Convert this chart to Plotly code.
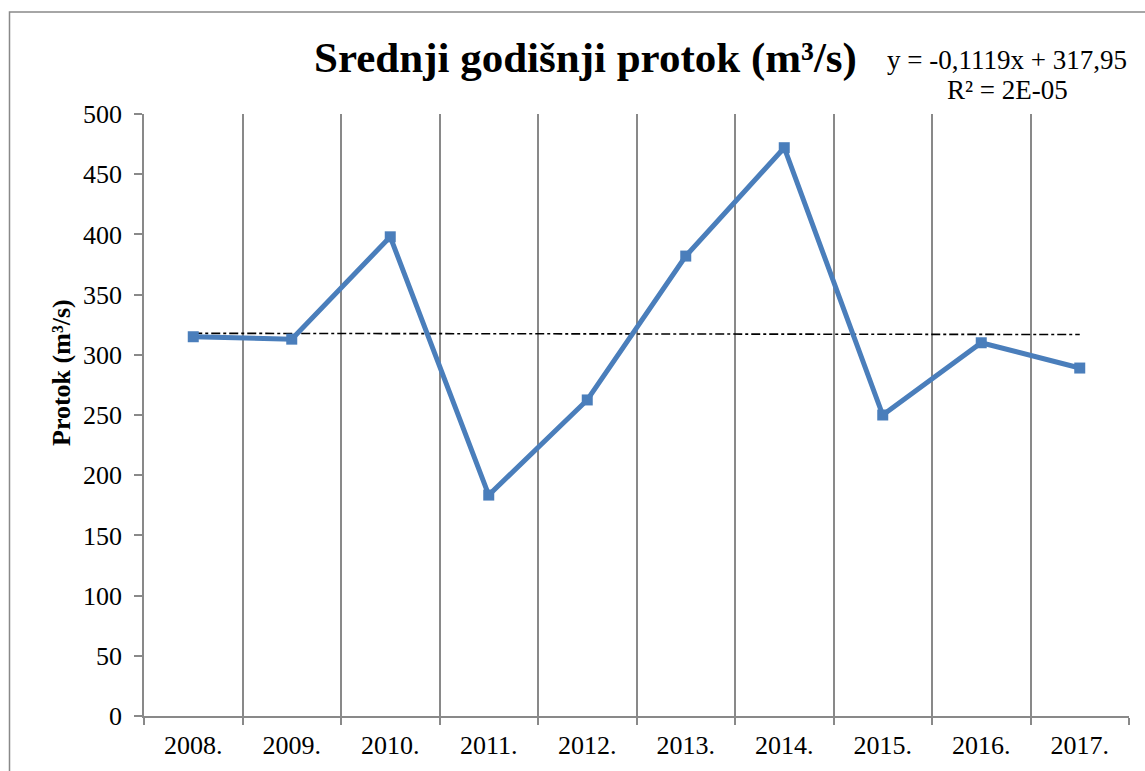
import numpy as np
import plotly.graph_objects as go

# Mean annual discharge per year
years = ["2008.", "2009.", "2010.", "2011.", "2012.", "2013.", "2014.", "2015.", "2016.", "2017."]
protok = [315, 313, 398, 183.5, 262.5, 382, 472, 250, 310, 289]

# Linear trend as reported on the chart: y = -0,1119x + 317,95 (x = 1..10)
trend_slope = -0.1119
trend_intercept = 317.95
y_ticks = [0, 50, 100, 150, 200, 250, 300, 350, 400, 450, 500]

x_idx = np.arange(1, len(years) + 1)
trend = trend_slope * x_idx + trend_intercept

W, H = 1145, 771
L, R, T, B = 144, 16, 114, 55
pw, ph = W - L - R, H - T - B

def px_x(p):
    return (p - L) / pw

def px_y(p):
    return (H - B - p) / ph

serif = "Liberation Serif"
grey = "#898989"
blue = "#4A7EBB"

fig = go.Figure()

fig.add_trace(go.Scatter(
    x=years, y=trend, mode="lines",
    line=dict(color="black", width=1.6, dash="dashdot"),
    hoverinfo="skip", showlegend=False,
))

fig.add_trace(go.Scatter(
    x=years, y=protok, mode="lines+markers",
    line=dict(color=blue, width=5),
    marker=dict(symbol="square", size=11, color=blue),
    showlegend=False,
))

fig.update_layout(
    width=W, height=H,
    margin=dict(l=L, r=R, t=T, b=B),
    paper_bgcolor="white", plot_bgcolor="white",
    font=dict(family=serif, color="black"),
    xaxis=dict(
        type="category", range=[-0.5, 9.5],
        tickson="boundaries", ticks="outside", ticklen=7, tickcolor=grey, tickwidth=1.5,
        showgrid=True, gridcolor=grey, gridwidth=1.5,
        showline=True, linecolor=grey, linewidth=1.5,
        tickfont=dict(size=26, family=serif, color="black"),
        ticklabelstandoff=5,
    ),
    yaxis=dict(
        range=[0, 500], tickvals=y_ticks,
        ticks="outside", ticklen=8, tickcolor=grey, tickwidth=1.5,
        showgrid=False, zeroline=False,
        showline=True, linecolor=grey, linewidth=1.5,
        tickfont=dict(size=26, family=serif, color="black"),
        ticklabelstandoff=7,
    ),
    shapes=[dict(
        type="rect", xref="paper", yref="paper",
        x0=px_x(9.5), x1=px_x(1160), y0=px_y(790), y1=px_y(12),
        line=dict(color=grey, width=1.5), fillcolor="rgba(0,0,0,0)", layer="below",
    )],
    annotations=[
        dict(
            text="<b>Srednji godišnji protok (m³/s)</b>",
            xref="paper", yref="paper", x=px_x(585), y=px_y(58),
            xanchor="center", yanchor="middle", showarrow=False,
            font=dict(size=43, family=serif, color="black"),
        ),
        dict(
            text="y = -0,1119x + 317,95",
            xref="paper", yref="paper", x=px_x(1007), y=px_y(60),
            xanchor="center", yanchor="middle", showarrow=False,
            font=dict(size=27, family=serif, color="black"),
        ),
        dict(
            text="R² = 2E-05",
            xref="paper", yref="paper", x=px_x(1007), y=px_y(90),
            xanchor="center", yanchor="middle", showarrow=False,
            font=dict(size=27, family=serif, color="black"),
        ),
        dict(
            text="<b>Protok (m³/s)</b>",
            xref="paper", yref="paper", x=px_x(61), y=px_y(373),
            xanchor="center", yanchor="middle", textangle=-90, showarrow=False,
            font=dict(size=26, family=serif, color="black"),
        ),
    ],
)

fig.write_html("out.html")
